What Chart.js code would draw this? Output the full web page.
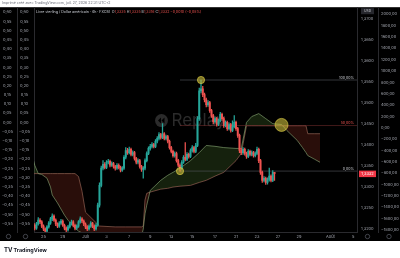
<!DOCTYPE html>
<html>
<head>
<meta charset="utf-8">
<script src="https://cdn.jsdelivr.net/npm/chart.js@4.4.1/dist/chart.umd.min.js"></script>
<style>
html,body{margin:0;padding:0;background:#fff;}
canvas{display:block;}
</style>
</head>
<body>
<canvas id="c" width="400" height="258"></canvas>
<script>
// GBP/USD 4h candles (FXCM)
const opens = [1.3217,1.3209,1.3202,1.3212,1.3221,1.3217,1.3207,1.3200,1.3195,1.3205,
 1.3214,1.3224,1.3231,1.3221,1.3212,1.3207,1.3214,1.3219,1.3209,1.3202,
 1.3198,1.3205,1.3212,1.3217,1.3209,1.3202,1.3207,1.3217,1.3224,1.3219,
 1.3212,1.3205,1.3200,1.3207,1.3214,1.3207,1.3200,1.3209,1.3257,1.3304,
 1.3345,1.3354,1.3347,1.3359,1.3361,1.3352,1.3356,1.3349,1.3345,1.3352,
 1.3347,1.3340,1.3345,1.3371,1.3387,1.3382,1.3390,1.3378,1.3382,1.3368,
 1.3359,1.3363,1.3349,1.3342,1.3345,1.3363,1.3380,1.3392,1.3397,1.3401,
 1.3397,1.3409,1.3416,1.3425,1.3418,1.3427,1.3416,1.3420,1.3409,1.3394,
 1.3385,1.3375,1.3380,1.3363,1.3352,1.3345,1.3359,1.3371,1.3366,1.3378,
 1.3373,1.3387,1.3394,1.3385,1.3399,1.3463,1.3529,1.3534,1.3520,1.3508,
 1.3496,1.3501,1.3482,1.3470,1.3456,1.3463,1.3449,1.3458,1.3473,1.3463,
 1.3446,1.3454,1.3439,1.3449,1.3435,1.3444,1.3454,1.3439,1.3423,1.3387,
 1.3382,1.3390,1.3380,1.3373,1.3385,1.3378,1.3382,1.3375,1.3380,1.3390,
 1.3363,1.3335,1.3316,1.3321,1.3311,1.3318,1.3326,1.3316,1.3335];
const closes = [1.3209,1.3202,1.3212,1.3221,1.3217,1.3207,1.3200,1.3195,1.3205,1.3214,
 1.3224,1.3231,1.3221,1.3212,1.3207,1.3214,1.3219,1.3209,1.3202,1.3198,
 1.3205,1.3212,1.3217,1.3209,1.3202,1.3207,1.3217,1.3224,1.3219,1.3212,
 1.3205,1.3200,1.3207,1.3214,1.3207,1.3200,1.3209,1.3257,1.3304,1.3345,
 1.3354,1.3347,1.3359,1.3361,1.3352,1.3356,1.3349,1.3345,1.3352,1.3347,
 1.3340,1.3345,1.3371,1.3387,1.3382,1.3390,1.3378,1.3382,1.3368,1.3359,
 1.3363,1.3349,1.3342,1.3345,1.3363,1.3380,1.3392,1.3397,1.3401,1.3397,
 1.3409,1.3416,1.3425,1.3418,1.3427,1.3416,1.3420,1.3409,1.3394,1.3385,
 1.3375,1.3380,1.3363,1.3352,1.3345,1.3359,1.3371,1.3366,1.3378,1.3373,
 1.3387,1.3394,1.3385,1.3399,1.3463,1.3529,1.3534,1.3520,1.3508,1.3496,
 1.3501,1.3482,1.3470,1.3456,1.3463,1.3449,1.3458,1.3473,1.3463,1.3446,
 1.3454,1.3439,1.3449,1.3435,1.3444,1.3454,1.3439,1.3423,1.3387,1.3382,
 1.3390,1.3380,1.3373,1.3385,1.3378,1.3382,1.3375,1.3380,1.3390,1.3363,
 1.3335,1.3316,1.3321,1.3311,1.3318,1.3326,1.3316,1.3335,1.3332];
const highs = [1.3222,1.3213,1.3216,1.3227,1.3225,1.3220,1.3210,1.3203,1.3208,1.3218,
 1.3228,1.3236,1.3234,1.3224,1.3215,1.3218,1.3223,1.3222,1.3212,1.3205,
 1.3209,1.3216,1.3221,1.3220,1.3212,1.3210,1.3220,1.3229,1.3227,1.3222,
 1.3215,1.3208,1.3210,1.3218,1.3216,1.3210,1.3213,1.3262,1.3310,1.3350,
 1.3363,1.3358,1.3363,1.3366,1.3364,1.3360,1.3359,1.3352,1.3356,1.3355,
 1.3350,1.3349,1.3375,1.3394,1.3392,1.3395,1.3393,1.3386,1.3385,1.3371,
 1.3367,1.3366,1.3352,1.3349,1.3367,1.3384,1.3396,1.3402,1.3406,1.3404,
 1.3413,1.3420,1.3430,1.3428,1.3451,1.3430,1.3424,1.3423,1.3412,1.3397,
 1.3388,1.3384,1.3383,1.3366,1.3355,1.3363,1.3375,1.3406,1.3382,1.3381,
 1.3391,1.3399,1.3397,1.3404,1.3468,1.3536,1.3555,1.3540,1.3524,1.3512,
 1.3506,1.3504,1.3485,1.3473,1.3467,1.3466,1.3462,1.3478,1.3476,1.3466,
 1.3458,1.3457,1.3453,1.3452,1.3458,1.3470,1.3457,1.3442,1.3426,1.3392,
 1.3394,1.3393,1.3383,1.3389,1.3388,1.3386,1.3385,1.3384,1.3395,1.3393,
 1.3366,1.3338,1.3325,1.3324,1.3322,1.3345,1.3329,1.3339,1.3335];
const lows = [1.3204,1.3198,1.3199,1.3209,1.3213,1.3203,1.3196,1.3190,1.3192,1.3202,
 1.3211,1.3220,1.3218,1.3208,1.3203,1.3204,1.3211,1.3206,1.3198,1.3193,
 1.3195,1.3202,1.3209,1.3205,1.3198,1.3199,1.3204,1.3214,1.3215,1.3208,
 1.3201,1.3196,1.3197,1.3204,1.3203,1.3196,1.3197,1.3206,1.3252,1.3300,
 1.3341,1.3343,1.3344,1.3355,1.3348,1.3349,1.3345,1.3340,1.3342,1.3343,
 1.3336,1.3337,1.3342,1.3367,1.3378,1.3379,1.3374,1.3374,1.3364,1.3355,
 1.3355,1.3345,1.3337,1.3321,1.3341,1.3360,1.3377,1.3388,1.3393,1.3393,
 1.3394,1.3405,1.3412,1.3414,1.3415,1.3412,1.3412,1.3405,1.3390,1.3381,
 1.3371,1.3371,1.3359,1.3348,1.3338,1.3342,1.3356,1.3362,1.3363,1.3369,
 1.3370,1.3383,1.3381,1.3382,1.3396,1.3459,1.3524,1.3515,1.3503,1.3491,
 1.3492,1.3478,1.3466,1.3451,1.3452,1.3445,1.3446,1.3455,1.3459,1.3442,
 1.3443,1.3435,1.3436,1.3431,1.3432,1.3441,1.3435,1.3418,1.3382,1.3377,
 1.3378,1.3376,1.3368,1.3370,1.3374,1.3374,1.3371,1.3372,1.3377,1.3358,
 1.3330,1.3311,1.3312,1.3306,1.3307,1.3314,1.3312,1.3313,1.3316];

// Ichimoku cloud (leading spans, already shifted 26 bars ahead)
const cloudIdx = [0,1,3,5,8,10,11,14,18,20,22,24,26,28,30,38,47,53,60,62,63,64,65,67,73,77,80,84,90,95,99,104,109,116,119,122,125,129,133,137,142,145,151,154,156,157,161,164];
const spanA = [1.3368,1.3352,1.3332,1.3330,1.3321,1.3300,1.3281,1.3262,1.3233,1.3221,1.3212,1.3202,1.3195,1.3191,1.3188,1.3183,1.3183,1.3183,1.3183,1.3183,1.3200,1.3236,1.3257,1.3292,1.3316,1.3328,1.3335,1.3345,1.3363,1.3382,1.3399,1.3397,1.3394,1.3392,1.3392,1.3454,1.3468,1.3475,1.3463,1.3451,1.3449,1.3435,1.3411,1.3394,1.3382,1.3375,1.3366,1.3359];
const spanB = [1.3332,1.3332,1.3332,1.3332,1.3332,1.3332,1.3332,1.3332,1.3332,1.3332,1.3332,1.3332,1.3325,1.3290,1.3240,1.3207,1.3205,1.3205,1.3205,1.3205,1.3207,1.3269,1.3285,1.3288,1.3295,1.3297,1.3300,1.3302,1.3304,1.3311,1.3316,1.3326,1.3335,1.3363,1.3380,1.3446,1.3446,1.3446,1.3446,1.3446,1.3446,1.3446,1.3446,1.3446,1.3446,1.3427,1.3427,1.3427];

// fib retracement drawn from the low (bar 84) to the high (bar 96)
const fibStart = 84;
const fibPrices = [1.3555, 1.34465, 1.3338];
const fibLabels = ['100,00%', '50,00%', '0,00%'];

// highlighted spots
const hlIdx = [96, 84, 142];
const hlPrice = [1.3555, 1.3338, 1.3448];

// axes
const timeIdx = [6,17,30,42,55,67,79,91,104,116,128,140,152,170,183];
const timeLabels = ['25','29','Juil','3','7','9','13','15','17','21','23','27','29','Août','5'];
const priceTicks = [1.37,1.365,1.36,1.355,1.35,1.345,1.34,1.335,1.33,1.325,1.32];
const volTicks = [2000,1800,1600,1400,1200,1000,800,600,400,200,0,-200,-400,-600,-800,-1000,-1200,-1400,-1600,-1800];
const oscTicks = [0.6,0.55,0.5,0.45,0.4,0.35,0.3,0.25,0.2,0.15,0.1,0.05,0,-0.05,-0.1,-0.15,-0.2,-0.25,-0.3,-0.35,-0.4,-0.45,-0.5,-0.55];
const lastPrice = 1.3332;

const UP = '#26a69a', DOWN = '#ef5350';
const SEP = '#2a2a2e', TICK = '#a3a6af';
const FONT = 'Inter, "Noto Sans", sans-serif';

function fr(v, d){ const s = Math.abs(v).toFixed(d).replace('.', ','); return (v < -1e-9 ? '\u2212' : '') + s; }

const candleCol = closes.map((c,i)=> c >= opens[i] ? UP : DOWN);
const xMax = 185.14;

function yAxis(pos, min, max, ticks, dec, width, align, pad){
  return {
    type:'linear', position:pos, min:min, max:max,
    afterBuildTicks: s => { s.ticks = ticks.map(v=>({value:v})); },
    afterFit: s => { s.width = width; },
    grid:{display:false, drawTicks:false},
    border:{display:true, color:SEP, width:1},
    ticks:{ autoSkip:false, color:TICK, font:{size:4, family:FONT}, padding:pad, crossAlign:align,
      callback:(v)=> fr(v, dec) }
  };
}

const deco = {
  id:'deco',
  beforeDraw(ch){
    const {ctx, chartArea:a, scales} = ch;
    ctx.save();
    ctx.fillStyle = '#fff'; ctx.fillRect(0,0,ch.width,ch.height);
    ctx.fillStyle = '#000'; ctx.fillRect(0, a.top, ch.width, scales.x.bottom - a.top);
    ctx.restore();
  },
  beforeDatasetsDraw(ch){
    // replay watermark
    const {ctx, chartArea:a} = ch;
    const cx = (a.left + a.right)/2, cy = (a.top + a.bottom)/2 + 1;
    ctx.save();
    ctx.fillStyle = 'rgba(85,85,85,0.5)';
    ctx.beginPath(); ctx.arc(cx-34, cy, 6.5, 0, Math.PI*2); ctx.fill();
    ctx.fillStyle = '#000';
    ctx.beginPath(); ctx.moveTo(cx-34.5, cy-3); ctx.lineTo(cx-34.5, cy+3); ctx.lineTo(cx-37.5, cy); ctx.closePath(); ctx.fill();
    ctx.beginPath(); ctx.moveTo(cx-31, cy-3); ctx.lineTo(cx-31, cy+3); ctx.lineTo(cx-34, cy); ctx.closePath(); ctx.fill();
    ctx.fillStyle = 'rgba(85,85,85,0.5)';
    ctx.font = '17px ' + FONT; ctx.textBaseline = 'middle'; ctx.textAlign = 'left';
    ctx.fillText('Replay', cx-24, cy);
    ctx.restore();
  },
  afterDraw(ch){
    const {ctx, chartArea:a, scales} = ch;
    const p = scales.price, xs = scales.x;
    ctx.save();
    // print header
    ctx.fillStyle = '#6a6d78'; ctx.font = '3.6px ' + FONT; ctx.textBaseline = 'middle'; ctx.textAlign = 'left';
    ctx.fillText('Imprimé créé avec TradingView.com, juil. 27, 2026 22:31 UTC+2', 2, 3);
    // legend row
    let x = a.left + 2; const ty = a.top + 4.5;
    ctx.font = '3.6px ' + FONT;
    const parts = [['Livre sterling / Dollar américain · 4h · FXCM  ', '#d1d4dc'], ['O', '#d1d4dc'], ['1,3335 ', DOWN], ['H', '#d1d4dc'], ['1,3335 ', DOWN],
      ['B', '#d1d4dc'], ['1,3316 ', DOWN], ['C', '#d1d4dc'], ['1,3332 ', DOWN], ['\u22120,0010 (\u22120,08%)', DOWN]];
    parts.forEach(([t,c])=>{ ctx.fillStyle = c; ctx.fillText(t, x, ty); x += ctx.measureText(t).width; });
    // fib labels
    ctx.textAlign = 'right'; ctx.textBaseline = 'bottom'; ctx.font = '3.6px ' + FONT;
    fibPrices.forEach((v,i)=>{ ctx.fillStyle = i===1 ? DOWN : '#c8cad0'; ctx.fillText(fibLabels[i], a.right - 3, p.getPixelForValue(v) - 0.5); });
    // currency box on the price axis
    ctx.fillStyle = '#26272d'; ctx.fillRect(p.left + 4, a.top + 1, 13, 6);
    ctx.fillStyle = '#c8cad0'; ctx.textAlign = 'center'; ctx.textBaseline = 'middle'; ctx.font = '3.4px ' + FONT;
    ctx.fillText('USD', p.left + 10.5, a.top + 4);
    // last price label
    const ly = p.getPixelForValue(lastPrice);
    ctx.fillStyle = '#f23645'; ctx.fillRect(p.left + 2, ly - 3, p.width - 4, 6.5);
    ctx.fillStyle = '#fff'; ctx.font = '4px ' + FONT; ctx.fillText(fr(lastPrice, 4), p.left + p.width/2, ly + 0.3);
    // footer gear icons
    const fy = (xs.top + xs.bottom)/2;
    ctx.strokeStyle = '#6a6d78'; ctx.lineWidth = 0.6;
    ['osc1','osc2','price','vol'].forEach(id=>{ const s = scales[id]; ctx.beginPath(); ctx.arc((s.left + s.right)/2, fy, 2.2, 0, Math.PI*2); ctx.stroke(); });
    // TradingView logo
    ctx.fillStyle = '#131722'; ctx.textAlign = 'left'; ctx.textBaseline = 'middle';
    ctx.font = 'bold 6px ' + FONT; ctx.fillText('TV', 4, 250);
    ctx.font = 'bold 5.4px ' + FONT; ctx.fillText('TradingView', 13.5, 250);
    ctx.restore();
  }
};

const datasets = [
  { type:'line', label:'Lead 1', data: cloudIdx.map((j,k)=>({x:j, y:spanA[k]})), yAxisID:'price', xAxisID:'x',
    borderColor:'#8fae7a', borderWidth:0.6, pointRadius:0, order:10,
    fill:{ target:'+1', above:'rgba(95,150,60,0.22)', below:'rgba(170,60,40,0.24)' } },
  { type:'line', label:'Lead 2', data: cloudIdx.map((j,k)=>({x:j, y:spanB[k]})), yAxisID:'price', xAxisID:'x',
    borderColor:'#b07468', borderWidth:0.6, pointRadius:0, order:10, fill:false },
];
fibPrices.forEach((v,i)=>{
  datasets.push({ type:'line', data:[{x:fibStart, y:v},{x:xMax, y:v}], yAxisID:'price', xAxisID:'x',
    borderColor: i===1 ? '#6e2a2a' : '#55575e', borderWidth:0.6, pointRadius:0, order:9, fill:false });
});
datasets.push({ type:'bar', data: closes.map((c,i)=>({x:i, y:[lows[i], highs[i]]})), yAxisID:'price', xAxisID:'x',
  backgroundColor:candleCol, barThickness:0.6, grouped:false, borderWidth:0, order:3 });
datasets.push({ type:'bar', data: closes.map((c,i)=>({x:i, y:[opens[i], c]})), yAxisID:'price', xAxisID:'x',
  backgroundColor:candleCol, barThickness:1.3, minBarLength:0.6, grouped:false, borderWidth:0, order:2 });
datasets.push({ type:'line', data: hlIdx.map((j,k)=>({x:j, y:hlPrice[k]})), yAxisID:'price', xAxisID:'x',
  showLine:false, pointRadius:[3.6,3.6,6.5], pointBackgroundColor:'rgba(205,190,60,0.6)',
  pointBorderColor:'rgba(225,210,70,0.9)', pointBorderWidth:0.7, order:0 });

new Chart(document.getElementById('c'), {
  type:'bar',
  data:{ datasets },
  plugins:[deco],
  options:{
    responsive:false, animation:false, devicePixelRatio:1,
    layout:{ padding:{ top:6, bottom:17, left:0, right:0 } },
    plugins:{ legend:{display:false}, tooltip:{enabled:false} },
    scales:{
      x:{ type:'linear', position:'bottom', min:0.57, max:xMax, offset:false,
        afterBuildTicks: s => { s.ticks = timeIdx.map(v=>({value:v})); },
        afterFit: s => { s.height = 9; },
        grid:{display:false, drawTicks:false}, border:{display:true, color:SEP},
        ticks:{ autoSkip:false, maxRotation:0, padding:2.5, color:TICK, font:{size:4, family:FONT},
          callback:(v,i)=> timeLabels[i] } },
      osc1: yAxis('left', -0.5959, 0.6271, oscTicks, 2, 17, 'center', 4),
      osc2: yAxis('left', -0.5959, 0.6271, oscTicks, 2, 17, 'center', 4),
      price: yAxis('right', 1.319289, 1.372844, priceTicks, 4, 21, 'near', 4),
      vol: yAxis('right', -1835.4, 2122.6, volTicks, 2, 22, 'near', 3)
    }
  }
});
</script>
</body>
</html>
